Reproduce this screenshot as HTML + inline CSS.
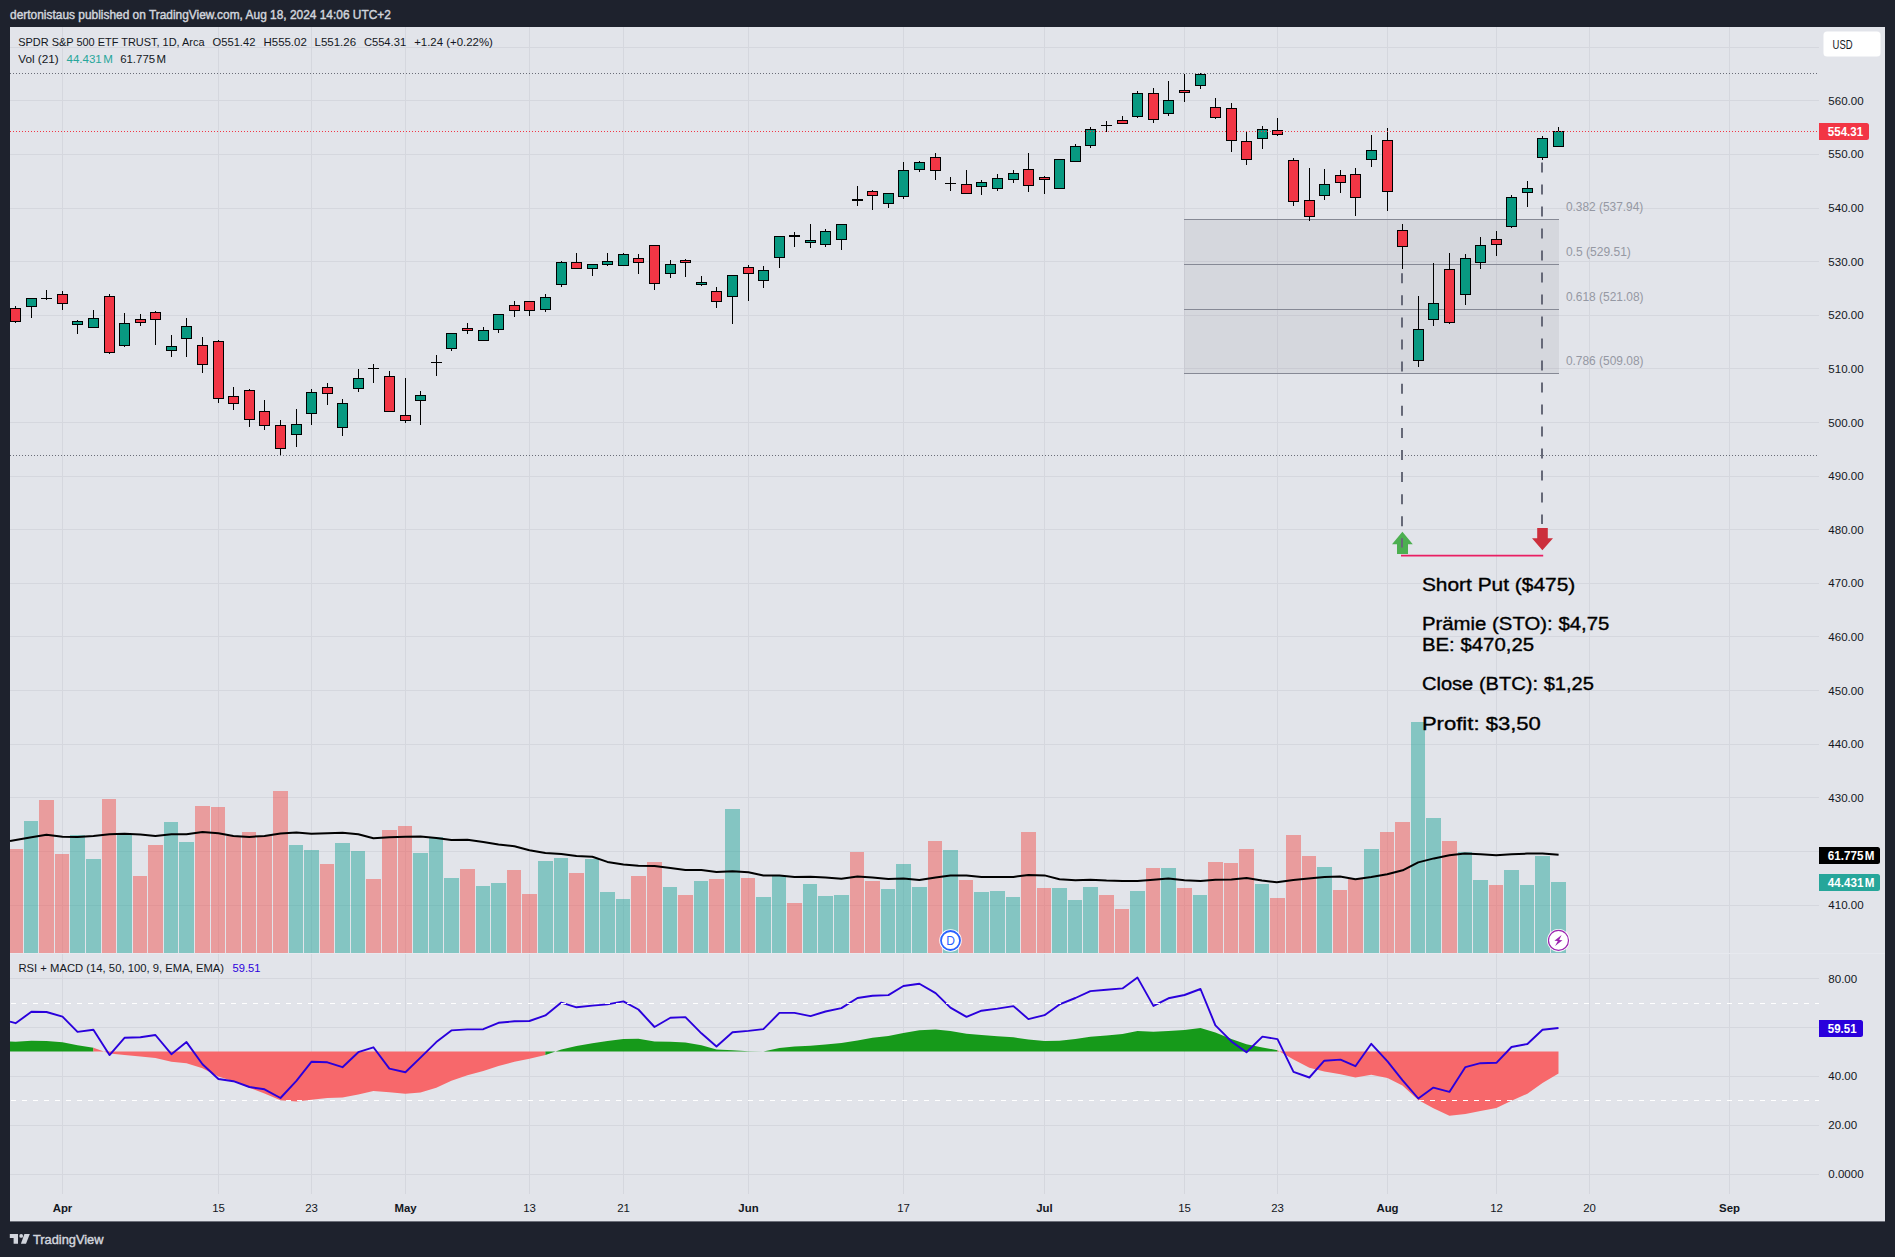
<!DOCTYPE html>
<html lang="en"><head><meta charset="utf-8"><title>SPY chart</title>
<style>html,body{margin:0;padding:0;background:#1e222d;}body{width:1895px;height:1257px;overflow:hidden;}</style>
</head><body>
<svg width="1895" height="1257" viewBox="0 0 1895 1257" font-family='"Liberation Sans", "DejaVu Sans", sans-serif' style="display:block">
<rect x="0" y="0" width="1895" height="1257" fill="#1e222d"/>
<rect x="10" y="27" width="1875" height="1194.4" fill="#e2e4ea"/>
<g fill="#d5d7de" shape-rendering="crispEdges">
<rect x="62" y="27" width="1" height="1167"/>
<rect x="218" y="27" width="1" height="1167"/>
<rect x="311" y="27" width="1" height="1167"/>
<rect x="405" y="27" width="1" height="1167"/>
<rect x="529" y="27" width="1" height="1167"/>
<rect x="623" y="27" width="1" height="1167"/>
<rect x="748" y="27" width="1" height="1167"/>
<rect x="903" y="27" width="1" height="1167"/>
<rect x="1044" y="27" width="1" height="1167"/>
<rect x="1184" y="27" width="1" height="1167"/>
<rect x="1277" y="27" width="1" height="1167"/>
<rect x="1387" y="27" width="1" height="1167"/>
<rect x="1496" y="27" width="1" height="1167"/>
<rect x="1589" y="27" width="1" height="1167"/>
<rect x="1729" y="27" width="1" height="1167"/>
<rect x="10" y="47" width="1809" height="1"/>
<rect x="10" y="100" width="1809" height="1"/>
<rect x="10" y="154" width="1809" height="1"/>
<rect x="10" y="208" width="1809" height="1"/>
<rect x="10" y="261" width="1809" height="1"/>
<rect x="10" y="315" width="1809" height="1"/>
<rect x="10" y="368" width="1809" height="1"/>
<rect x="10" y="422" width="1809" height="1"/>
<rect x="10" y="476" width="1809" height="1"/>
<rect x="10" y="529" width="1809" height="1"/>
<rect x="10" y="583" width="1809" height="1"/>
<rect x="10" y="636" width="1809" height="1"/>
<rect x="10" y="690" width="1809" height="1"/>
<rect x="10" y="744" width="1809" height="1"/>
<rect x="10" y="797" width="1809" height="1"/>
<rect x="10" y="851" width="1809" height="1"/>
<rect x="10" y="905" width="1809" height="1"/>
<rect x="10" y="978" width="1809" height="1"/>
<rect x="10" y="1027" width="1809" height="1"/>
<rect x="10" y="1076" width="1809" height="1"/>
<rect x="10" y="1125" width="1809" height="1"/>
<rect x="10" y="1174" width="1809" height="1"/>
</g>
<rect x="10" y="953" width="1875" height="1" fill="#e7e9ef" shape-rendering="crispEdges"/>
<g shape-rendering="crispEdges">
<rect x="10" y="849" width="13" height="104" fill="rgba(239,83,80,0.5)"/>
<rect x="24" y="821" width="14" height="132" fill="rgba(38,166,154,0.5)"/>
<rect x="39" y="800" width="15" height="153" fill="rgba(239,83,80,0.5)"/>
<rect x="55" y="854" width="14" height="99" fill="rgba(239,83,80,0.5)"/>
<rect x="70" y="835" width="15" height="118" fill="rgba(38,166,154,0.5)"/>
<rect x="86" y="859" width="15" height="94" fill="rgba(38,166,154,0.5)"/>
<rect x="102" y="799" width="14" height="154" fill="rgba(239,83,80,0.5)"/>
<rect x="117" y="835" width="15" height="118" fill="rgba(38,166,154,0.5)"/>
<rect x="133" y="876" width="14" height="77" fill="rgba(239,83,80,0.5)"/>
<rect x="148" y="845" width="15" height="108" fill="rgba(239,83,80,0.5)"/>
<rect x="164" y="822" width="14" height="131" fill="rgba(38,166,154,0.5)"/>
<rect x="179" y="842" width="15" height="111" fill="rgba(38,166,154,0.5)"/>
<rect x="195" y="806" width="15" height="147" fill="rgba(239,83,80,0.5)"/>
<rect x="211" y="807" width="14" height="146" fill="rgba(239,83,80,0.5)"/>
<rect x="226" y="836" width="15" height="117" fill="rgba(239,83,80,0.5)"/>
<rect x="242" y="832" width="14" height="121" fill="rgba(239,83,80,0.5)"/>
<rect x="257" y="836" width="15" height="117" fill="rgba(239,83,80,0.5)"/>
<rect x="273" y="791" width="15" height="162" fill="rgba(239,83,80,0.5)"/>
<rect x="289" y="845" width="14" height="108" fill="rgba(38,166,154,0.5)"/>
<rect x="304" y="850" width="15" height="103" fill="rgba(38,166,154,0.5)"/>
<rect x="320" y="864" width="14" height="89" fill="rgba(239,83,80,0.5)"/>
<rect x="335" y="843" width="15" height="110" fill="rgba(38,166,154,0.5)"/>
<rect x="351" y="851" width="14" height="102" fill="rgba(38,166,154,0.5)"/>
<rect x="366" y="879" width="15" height="74" fill="rgba(239,83,80,0.5)"/>
<rect x="382" y="830" width="15" height="123" fill="rgba(239,83,80,0.5)"/>
<rect x="398" y="826" width="14" height="127" fill="rgba(239,83,80,0.5)"/>
<rect x="413" y="853" width="15" height="100" fill="rgba(38,166,154,0.5)"/>
<rect x="429" y="837" width="14" height="116" fill="rgba(38,166,154,0.5)"/>
<rect x="444" y="878" width="15" height="75" fill="rgba(38,166,154,0.5)"/>
<rect x="460" y="869" width="15" height="84" fill="rgba(239,83,80,0.5)"/>
<rect x="476" y="886" width="14" height="67" fill="rgba(38,166,154,0.5)"/>
<rect x="491" y="883" width="15" height="70" fill="rgba(38,166,154,0.5)"/>
<rect x="507" y="870" width="14" height="83" fill="rgba(239,83,80,0.5)"/>
<rect x="522" y="894" width="15" height="59" fill="rgba(239,83,80,0.5)"/>
<rect x="538" y="861" width="15" height="92" fill="rgba(38,166,154,0.5)"/>
<rect x="554" y="858" width="14" height="95" fill="rgba(38,166,154,0.5)"/>
<rect x="569" y="873" width="15" height="80" fill="rgba(239,83,80,0.5)"/>
<rect x="585" y="859" width="14" height="94" fill="rgba(38,166,154,0.5)"/>
<rect x="600" y="892" width="15" height="61" fill="rgba(38,166,154,0.5)"/>
<rect x="616" y="899" width="14" height="54" fill="rgba(38,166,154,0.5)"/>
<rect x="631" y="876" width="15" height="77" fill="rgba(239,83,80,0.5)"/>
<rect x="647" y="862" width="15" height="91" fill="rgba(239,83,80,0.5)"/>
<rect x="663" y="887" width="14" height="66" fill="rgba(38,166,154,0.5)"/>
<rect x="678" y="895" width="15" height="58" fill="rgba(239,83,80,0.5)"/>
<rect x="694" y="881" width="14" height="72" fill="rgba(38,166,154,0.5)"/>
<rect x="709" y="879" width="15" height="74" fill="rgba(239,83,80,0.5)"/>
<rect x="725" y="809" width="15" height="144" fill="rgba(38,166,154,0.5)"/>
<rect x="741" y="878" width="14" height="75" fill="rgba(239,83,80,0.5)"/>
<rect x="756" y="897" width="15" height="56" fill="rgba(38,166,154,0.5)"/>
<rect x="772" y="876" width="14" height="77" fill="rgba(38,166,154,0.5)"/>
<rect x="787" y="903" width="15" height="50" fill="rgba(239,83,80,0.5)"/>
<rect x="803" y="884" width="14" height="69" fill="rgba(38,166,154,0.5)"/>
<rect x="818" y="896" width="15" height="57" fill="rgba(38,166,154,0.5)"/>
<rect x="834" y="895" width="15" height="58" fill="rgba(38,166,154,0.5)"/>
<rect x="850" y="852" width="14" height="101" fill="rgba(239,83,80,0.5)"/>
<rect x="865" y="881" width="15" height="72" fill="rgba(239,83,80,0.5)"/>
<rect x="881" y="889" width="14" height="64" fill="rgba(38,166,154,0.5)"/>
<rect x="896" y="864" width="15" height="89" fill="rgba(38,166,154,0.5)"/>
<rect x="912" y="887" width="15" height="66" fill="rgba(38,166,154,0.5)"/>
<rect x="928" y="841" width="14" height="112" fill="rgba(239,83,80,0.5)"/>
<rect x="943" y="850" width="15" height="103" fill="rgba(38,166,154,0.5)"/>
<rect x="959" y="880" width="14" height="73" fill="rgba(239,83,80,0.5)"/>
<rect x="974" y="892" width="15" height="61" fill="rgba(38,166,154,0.5)"/>
<rect x="990" y="891" width="15" height="62" fill="rgba(38,166,154,0.5)"/>
<rect x="1006" y="897" width="14" height="56" fill="rgba(38,166,154,0.5)"/>
<rect x="1021" y="832" width="15" height="121" fill="rgba(239,83,80,0.5)"/>
<rect x="1037" y="888" width="14" height="65" fill="rgba(239,83,80,0.5)"/>
<rect x="1052" y="888" width="15" height="65" fill="rgba(38,166,154,0.5)"/>
<rect x="1068" y="900" width="14" height="53" fill="rgba(38,166,154,0.5)"/>
<rect x="1083" y="887" width="15" height="66" fill="rgba(38,166,154,0.5)"/>
<rect x="1099" y="895" width="15" height="58" fill="rgba(239,83,80,0.5)"/>
<rect x="1115" y="909" width="14" height="44" fill="rgba(239,83,80,0.5)"/>
<rect x="1130" y="891" width="15" height="62" fill="rgba(38,166,154,0.5)"/>
<rect x="1146" y="868" width="14" height="85" fill="rgba(239,83,80,0.5)"/>
<rect x="1161" y="868" width="15" height="85" fill="rgba(38,166,154,0.5)"/>
<rect x="1177" y="888" width="15" height="65" fill="rgba(239,83,80,0.5)"/>
<rect x="1193" y="895" width="14" height="58" fill="rgba(38,166,154,0.5)"/>
<rect x="1208" y="862" width="15" height="91" fill="rgba(239,83,80,0.5)"/>
<rect x="1224" y="863" width="14" height="90" fill="rgba(239,83,80,0.5)"/>
<rect x="1239" y="849" width="15" height="104" fill="rgba(239,83,80,0.5)"/>
<rect x="1255" y="884" width="14" height="69" fill="rgba(38,166,154,0.5)"/>
<rect x="1270" y="898" width="15" height="55" fill="rgba(239,83,80,0.5)"/>
<rect x="1286" y="835" width="15" height="118" fill="rgba(239,83,80,0.5)"/>
<rect x="1302" y="856" width="14" height="97" fill="rgba(239,83,80,0.5)"/>
<rect x="1317" y="867" width="15" height="86" fill="rgba(38,166,154,0.5)"/>
<rect x="1333" y="890" width="14" height="63" fill="rgba(239,83,80,0.5)"/>
<rect x="1348" y="879" width="15" height="74" fill="rgba(239,83,80,0.5)"/>
<rect x="1364" y="849" width="15" height="104" fill="rgba(38,166,154,0.5)"/>
<rect x="1380" y="832" width="14" height="121" fill="rgba(239,83,80,0.5)"/>
<rect x="1395" y="822" width="15" height="131" fill="rgba(239,83,80,0.5)"/>
<rect x="1411" y="722" width="14" height="231" fill="rgba(38,166,154,0.5)"/>
<rect x="1426" y="818" width="15" height="135" fill="rgba(38,166,154,0.5)"/>
<rect x="1442" y="841" width="15" height="112" fill="rgba(239,83,80,0.5)"/>
<rect x="1458" y="852" width="14" height="101" fill="rgba(38,166,154,0.5)"/>
<rect x="1473" y="880" width="15" height="73" fill="rgba(38,166,154,0.5)"/>
<rect x="1489" y="885" width="14" height="68" fill="rgba(239,83,80,0.5)"/>
<rect x="1504" y="870" width="15" height="83" fill="rgba(38,166,154,0.5)"/>
<rect x="1520" y="885" width="14" height="68" fill="rgba(38,166,154,0.5)"/>
<rect x="1535" y="856" width="15" height="97" fill="rgba(38,166,154,0.5)"/>
<rect x="1551" y="882" width="15" height="71" fill="rgba(38,166,154,0.5)"/>
</g>
<polyline fill="none" stroke="#000" stroke-width="2" stroke-linejoin="round" points="10.0,840.9 31.4,837.2 46.5,834.7 62.5,836.7 77.5,836.9 93.4,835.9 109.5,834.3 124.5,833.8 140.4,834.5 155.4,835.9 171.4,834.3 186.5,834.3 202.5,832.0 218.4,833.3 233.4,835.9 249.4,836.9 264.5,835.9 280.5,833.5 296.4,832.6 311.4,833.8 327.4,833.3 342.5,832.8 358.3,834.3 373.4,838.2 389.4,837.2 405.4,836.7 420.5,836.5 436.3,838.1 451.4,839.9 467.4,839.7 483.3,841.9 498.5,844.5 514.4,846.2 529.4,850.2 545.4,852.9 561.3,853.9 576.5,856.0 592.4,856.8 607.4,861.9 623.4,864.6 638.4,865.7 654.5,865.9 670.4,867.9 685.4,870.0 701.4,870.1 716.5,872.0 732.5,871.3 748.4,872.3 763.4,875.5 779.4,875.5 794.5,876.9 810.5,876.7 825.5,877.4 841.4,878.7 857.5,876.6 872.5,877.4 888.4,878.9 903.4,878.6 919.4,879.9 935.6,877.4 950.4,875.5 966.5,875.5 981.5,876.9 997.4,877.1 1013.4,876.9 1028.4,874.9 1044.5,875.4 1059.5,879.3 1075.4,880.3 1090.4,879.8 1106.5,880.6 1122.5,880.9 1137.5,881.1 1153.4,879.8 1168.4,878.6 1184.5,880.3 1200.5,880.9 1215.4,879.8 1231.4,879.6 1246.6,878.1 1261.9,880.5 1276.8,882.2 1293.3,879.9 1308.6,878.5 1324.5,877.1 1340.0,876.5 1355.4,879.3 1371.3,877.1 1387.2,874.3 1402.7,870.3 1418.2,862.4 1433.9,858.4 1449.4,855.2 1464.8,853.6 1480.7,854.2 1496.2,855.2 1511.5,854.2 1527.0,853.6 1542.5,853.6 1558.6,854.8"/>
<rect x="1184" y="219" width="375" height="155" fill="rgba(120,123,134,0.12)"/>
<g fill="#82859180" shape-rendering="crispEdges">
</g>
<g fill="#868995" shape-rendering="crispEdges">
<rect x="1184" y="219" width="375" height="1"/>
<rect x="1184" y="264" width="375" height="1"/>
<rect x="1184" y="309" width="375" height="1"/>
<rect x="1184" y="373" width="375" height="1"/>
</g>
<g shape-rendering="crispEdges">
<rect x="15" y="306" width="1" height="2" fill="#000"/>
<rect x="15" y="322" width="1" height="1" fill="#000"/>
<rect x="10" y="308" width="11" height="14" fill="#000"/>
<rect x="11" y="309" width="9" height="12" fill="#f23645"/>
<rect x="31" y="307" width="1" height="11" fill="#000"/>
<rect x="26" y="298" width="11" height="9" fill="#000"/>
<rect x="27" y="299" width="9" height="7" fill="#089981"/>
<rect x="46" y="290" width="1" height="10" fill="#000"/>
<rect x="41" y="298" width="11" height="1" fill="#000"/>
<rect x="62" y="291" width="1" height="3" fill="#000"/>
<rect x="62" y="304" width="1" height="6" fill="#000"/>
<rect x="57" y="294" width="11" height="10" fill="#000"/>
<rect x="58" y="295" width="9" height="8" fill="#f23645"/>
<rect x="77" y="320" width="1" height="1" fill="#000"/>
<rect x="77" y="325" width="1" height="9" fill="#000"/>
<rect x="72" y="321" width="11" height="4" fill="#000"/>
<rect x="73" y="322" width="9" height="2" fill="#089981"/>
<rect x="93" y="310" width="1" height="8" fill="#000"/>
<rect x="88" y="318" width="11" height="10" fill="#000"/>
<rect x="89" y="319" width="9" height="8" fill="#089981"/>
<rect x="109" y="294" width="1" height="2" fill="#000"/>
<rect x="109" y="353" width="1" height="1" fill="#000"/>
<rect x="104" y="296" width="11" height="57" fill="#000"/>
<rect x="105" y="297" width="9" height="55" fill="#f23645"/>
<rect x="124" y="313" width="1" height="10" fill="#000"/>
<rect x="124" y="346" width="1" height="1" fill="#000"/>
<rect x="119" y="323" width="11" height="23" fill="#000"/>
<rect x="120" y="324" width="9" height="21" fill="#089981"/>
<rect x="140" y="314" width="1" height="5" fill="#000"/>
<rect x="140" y="323" width="1" height="3" fill="#000"/>
<rect x="135" y="319" width="11" height="4" fill="#000"/>
<rect x="136" y="320" width="9" height="2" fill="#f23645"/>
<rect x="155" y="311" width="1" height="1" fill="#000"/>
<rect x="155" y="320" width="1" height="25" fill="#000"/>
<rect x="150" y="312" width="11" height="8" fill="#000"/>
<rect x="151" y="313" width="9" height="6" fill="#f23645"/>
<rect x="171" y="335" width="1" height="11" fill="#000"/>
<rect x="171" y="351" width="1" height="6" fill="#000"/>
<rect x="166" y="346" width="11" height="5" fill="#000"/>
<rect x="167" y="347" width="9" height="3" fill="#089981"/>
<rect x="186" y="318" width="1" height="8" fill="#000"/>
<rect x="186" y="339" width="1" height="18" fill="#000"/>
<rect x="181" y="326" width="11" height="13" fill="#000"/>
<rect x="182" y="327" width="9" height="11" fill="#089981"/>
<rect x="202" y="337" width="1" height="8" fill="#000"/>
<rect x="202" y="365" width="1" height="8" fill="#000"/>
<rect x="197" y="345" width="11" height="20" fill="#000"/>
<rect x="198" y="346" width="9" height="18" fill="#f23645"/>
<rect x="218" y="340" width="1" height="1" fill="#000"/>
<rect x="218" y="399" width="1" height="4" fill="#000"/>
<rect x="213" y="341" width="11" height="58" fill="#000"/>
<rect x="214" y="342" width="9" height="56" fill="#f23645"/>
<rect x="233" y="387" width="1" height="9" fill="#000"/>
<rect x="233" y="404" width="1" height="6" fill="#000"/>
<rect x="228" y="396" width="11" height="8" fill="#000"/>
<rect x="229" y="397" width="9" height="6" fill="#f23645"/>
<rect x="249" y="389" width="1" height="1" fill="#000"/>
<rect x="249" y="420" width="1" height="7" fill="#000"/>
<rect x="244" y="390" width="11" height="30" fill="#000"/>
<rect x="245" y="391" width="9" height="28" fill="#f23645"/>
<rect x="264" y="400" width="1" height="11" fill="#000"/>
<rect x="264" y="426" width="1" height="4" fill="#000"/>
<rect x="259" y="411" width="11" height="15" fill="#000"/>
<rect x="260" y="412" width="9" height="13" fill="#f23645"/>
<rect x="280" y="420" width="1" height="5" fill="#000"/>
<rect x="280" y="449" width="1" height="6" fill="#000"/>
<rect x="275" y="425" width="11" height="24" fill="#000"/>
<rect x="276" y="426" width="9" height="22" fill="#f23645"/>
<rect x="296" y="409" width="1" height="15" fill="#000"/>
<rect x="296" y="435" width="1" height="12" fill="#000"/>
<rect x="291" y="424" width="11" height="11" fill="#000"/>
<rect x="292" y="425" width="9" height="9" fill="#089981"/>
<rect x="311" y="389" width="1" height="3" fill="#000"/>
<rect x="311" y="414" width="1" height="11" fill="#000"/>
<rect x="306" y="392" width="11" height="22" fill="#000"/>
<rect x="307" y="393" width="9" height="20" fill="#089981"/>
<rect x="327" y="383" width="1" height="4" fill="#000"/>
<rect x="327" y="394" width="1" height="11" fill="#000"/>
<rect x="322" y="387" width="11" height="7" fill="#000"/>
<rect x="323" y="388" width="9" height="5" fill="#f23645"/>
<rect x="342" y="399" width="1" height="4" fill="#000"/>
<rect x="342" y="428" width="1" height="8" fill="#000"/>
<rect x="337" y="403" width="11" height="25" fill="#000"/>
<rect x="338" y="404" width="9" height="23" fill="#089981"/>
<rect x="358" y="369" width="1" height="9" fill="#000"/>
<rect x="358" y="389" width="1" height="3" fill="#000"/>
<rect x="353" y="378" width="11" height="11" fill="#000"/>
<rect x="354" y="379" width="9" height="9" fill="#089981"/>
<rect x="373" y="364" width="1" height="19" fill="#000"/>
<rect x="368" y="368" width="11" height="1" fill="#000"/>
<rect x="389" y="371" width="1" height="5" fill="#000"/>
<rect x="384" y="376" width="11" height="36" fill="#000"/>
<rect x="385" y="377" width="9" height="34" fill="#f23645"/>
<rect x="405" y="378" width="1" height="37" fill="#000"/>
<rect x="405" y="421" width="1" height="2" fill="#000"/>
<rect x="400" y="415" width="11" height="6" fill="#000"/>
<rect x="401" y="416" width="9" height="4" fill="#f23645"/>
<rect x="420" y="391" width="1" height="4" fill="#000"/>
<rect x="420" y="401" width="1" height="24" fill="#000"/>
<rect x="415" y="395" width="11" height="6" fill="#000"/>
<rect x="416" y="396" width="9" height="4" fill="#089981"/>
<rect x="436" y="355" width="1" height="21" fill="#000"/>
<rect x="431" y="362" width="11" height="1" fill="#000"/>
<rect x="451" y="349" width="1" height="2" fill="#000"/>
<rect x="446" y="333" width="11" height="16" fill="#000"/>
<rect x="447" y="334" width="9" height="14" fill="#089981"/>
<rect x="467" y="323" width="1" height="5" fill="#000"/>
<rect x="467" y="331" width="1" height="3" fill="#000"/>
<rect x="462" y="328" width="11" height="3" fill="#000"/>
<rect x="463" y="329" width="9" height="1" fill="#f23645"/>
<rect x="483" y="327" width="1" height="3" fill="#000"/>
<rect x="478" y="330" width="11" height="11" fill="#000"/>
<rect x="479" y="331" width="9" height="9" fill="#089981"/>
<rect x="498" y="330" width="1" height="3" fill="#000"/>
<rect x="493" y="314" width="11" height="16" fill="#000"/>
<rect x="494" y="315" width="9" height="14" fill="#089981"/>
<rect x="514" y="301" width="1" height="4" fill="#000"/>
<rect x="514" y="311" width="1" height="6" fill="#000"/>
<rect x="509" y="305" width="11" height="6" fill="#000"/>
<rect x="510" y="306" width="9" height="4" fill="#f23645"/>
<rect x="529" y="311" width="1" height="5" fill="#000"/>
<rect x="524" y="301" width="11" height="10" fill="#000"/>
<rect x="525" y="302" width="9" height="8" fill="#f23645"/>
<rect x="545" y="294" width="1" height="3" fill="#000"/>
<rect x="545" y="310" width="1" height="2" fill="#000"/>
<rect x="540" y="297" width="11" height="13" fill="#000"/>
<rect x="541" y="298" width="9" height="11" fill="#089981"/>
<rect x="561" y="261" width="1" height="1" fill="#000"/>
<rect x="561" y="285" width="1" height="2" fill="#000"/>
<rect x="556" y="262" width="11" height="23" fill="#000"/>
<rect x="557" y="263" width="9" height="21" fill="#089981"/>
<rect x="576" y="253" width="1" height="9" fill="#000"/>
<rect x="571" y="262" width="11" height="7" fill="#000"/>
<rect x="572" y="263" width="9" height="5" fill="#f23645"/>
<rect x="592" y="269" width="1" height="7" fill="#000"/>
<rect x="587" y="264" width="11" height="5" fill="#000"/>
<rect x="588" y="265" width="9" height="3" fill="#089981"/>
<rect x="607" y="253" width="1" height="8" fill="#000"/>
<rect x="607" y="265" width="1" height="1" fill="#000"/>
<rect x="602" y="261" width="11" height="4" fill="#000"/>
<rect x="603" y="262" width="9" height="2" fill="#089981"/>
<rect x="623" y="253" width="1" height="1" fill="#000"/>
<rect x="618" y="254" width="11" height="12" fill="#000"/>
<rect x="619" y="255" width="9" height="10" fill="#089981"/>
<rect x="638" y="254" width="1" height="4" fill="#000"/>
<rect x="638" y="263" width="1" height="11" fill="#000"/>
<rect x="633" y="258" width="11" height="5" fill="#000"/>
<rect x="634" y="259" width="9" height="3" fill="#f23645"/>
<rect x="654" y="284" width="1" height="6" fill="#000"/>
<rect x="649" y="245" width="11" height="39" fill="#000"/>
<rect x="650" y="246" width="9" height="37" fill="#f23645"/>
<rect x="670" y="260" width="1" height="4" fill="#000"/>
<rect x="670" y="274" width="1" height="4" fill="#000"/>
<rect x="665" y="264" width="11" height="10" fill="#000"/>
<rect x="666" y="265" width="9" height="8" fill="#089981"/>
<rect x="685" y="259" width="1" height="1" fill="#000"/>
<rect x="685" y="263" width="1" height="14" fill="#000"/>
<rect x="680" y="260" width="11" height="3" fill="#000"/>
<rect x="681" y="261" width="9" height="1" fill="#f23645"/>
<rect x="701" y="276" width="1" height="6" fill="#000"/>
<rect x="701" y="285" width="1" height="1" fill="#000"/>
<rect x="696" y="282" width="11" height="3" fill="#000"/>
<rect x="697" y="283" width="9" height="1" fill="#089981"/>
<rect x="716" y="287" width="1" height="4" fill="#000"/>
<rect x="716" y="302" width="1" height="6" fill="#000"/>
<rect x="711" y="291" width="11" height="11" fill="#000"/>
<rect x="712" y="292" width="9" height="9" fill="#f23645"/>
<rect x="732" y="297" width="1" height="27" fill="#000"/>
<rect x="727" y="275" width="11" height="22" fill="#000"/>
<rect x="728" y="276" width="9" height="20" fill="#089981"/>
<rect x="748" y="265" width="1" height="2" fill="#000"/>
<rect x="748" y="274" width="1" height="27" fill="#000"/>
<rect x="743" y="267" width="11" height="7" fill="#000"/>
<rect x="744" y="268" width="9" height="5" fill="#f23645"/>
<rect x="763" y="266" width="1" height="4" fill="#000"/>
<rect x="763" y="281" width="1" height="7" fill="#000"/>
<rect x="758" y="270" width="11" height="11" fill="#000"/>
<rect x="759" y="271" width="9" height="9" fill="#089981"/>
<rect x="779" y="258" width="1" height="10" fill="#000"/>
<rect x="774" y="236" width="11" height="22" fill="#000"/>
<rect x="775" y="237" width="9" height="20" fill="#089981"/>
<rect x="794" y="232" width="1" height="15" fill="#000"/>
<rect x="789" y="235" width="11" height="2" fill="#000"/>
<rect x="810" y="224" width="1" height="16" fill="#000"/>
<rect x="810" y="243" width="1" height="5" fill="#000"/>
<rect x="805" y="240" width="11" height="3" fill="#000"/>
<rect x="806" y="241" width="9" height="1" fill="#089981"/>
<rect x="825" y="229" width="1" height="2" fill="#000"/>
<rect x="825" y="245" width="1" height="2" fill="#000"/>
<rect x="820" y="231" width="11" height="14" fill="#000"/>
<rect x="821" y="232" width="9" height="12" fill="#089981"/>
<rect x="841" y="240" width="1" height="10" fill="#000"/>
<rect x="836" y="224" width="11" height="16" fill="#000"/>
<rect x="837" y="225" width="9" height="14" fill="#089981"/>
<rect x="857" y="186" width="1" height="20" fill="#000"/>
<rect x="852" y="199" width="11" height="2" fill="#000"/>
<rect x="872" y="190" width="1" height="1" fill="#000"/>
<rect x="872" y="196" width="1" height="14" fill="#000"/>
<rect x="867" y="191" width="11" height="5" fill="#000"/>
<rect x="868" y="192" width="9" height="3" fill="#f23645"/>
<rect x="888" y="204" width="1" height="4" fill="#000"/>
<rect x="883" y="193" width="11" height="11" fill="#000"/>
<rect x="884" y="194" width="9" height="9" fill="#089981"/>
<rect x="903" y="162" width="1" height="8" fill="#000"/>
<rect x="903" y="197" width="1" height="2" fill="#000"/>
<rect x="898" y="170" width="11" height="27" fill="#000"/>
<rect x="899" y="171" width="9" height="25" fill="#089981"/>
<rect x="919" y="161" width="1" height="1" fill="#000"/>
<rect x="919" y="170" width="1" height="2" fill="#000"/>
<rect x="914" y="162" width="11" height="8" fill="#000"/>
<rect x="915" y="163" width="9" height="6" fill="#089981"/>
<rect x="935" y="153" width="1" height="4" fill="#000"/>
<rect x="935" y="171" width="1" height="9" fill="#000"/>
<rect x="930" y="157" width="11" height="14" fill="#000"/>
<rect x="931" y="158" width="9" height="12" fill="#f23645"/>
<rect x="950" y="177" width="1" height="14" fill="#000"/>
<rect x="945" y="183" width="11" height="1" fill="#000"/>
<rect x="966" y="170" width="1" height="14" fill="#000"/>
<rect x="961" y="184" width="11" height="10" fill="#000"/>
<rect x="962" y="185" width="9" height="8" fill="#f23645"/>
<rect x="981" y="180" width="1" height="2" fill="#000"/>
<rect x="981" y="187" width="1" height="8" fill="#000"/>
<rect x="976" y="182" width="11" height="5" fill="#000"/>
<rect x="977" y="183" width="9" height="3" fill="#089981"/>
<rect x="997" y="174" width="1" height="4" fill="#000"/>
<rect x="997" y="189" width="1" height="2" fill="#000"/>
<rect x="992" y="178" width="11" height="11" fill="#000"/>
<rect x="993" y="179" width="9" height="9" fill="#089981"/>
<rect x="1013" y="170" width="1" height="3" fill="#000"/>
<rect x="1013" y="180" width="1" height="3" fill="#000"/>
<rect x="1008" y="173" width="11" height="7" fill="#000"/>
<rect x="1009" y="174" width="9" height="5" fill="#089981"/>
<rect x="1028" y="153" width="1" height="16" fill="#000"/>
<rect x="1028" y="186" width="1" height="6" fill="#000"/>
<rect x="1023" y="169" width="11" height="17" fill="#000"/>
<rect x="1024" y="170" width="9" height="15" fill="#f23645"/>
<rect x="1044" y="176" width="1" height="1" fill="#000"/>
<rect x="1044" y="180" width="1" height="14" fill="#000"/>
<rect x="1039" y="177" width="11" height="3" fill="#000"/>
<rect x="1040" y="178" width="9" height="1" fill="#f23645"/>
<rect x="1054" y="159" width="11" height="30" fill="#000"/>
<rect x="1055" y="160" width="9" height="28" fill="#089981"/>
<rect x="1075" y="144" width="1" height="2" fill="#000"/>
<rect x="1070" y="146" width="11" height="16" fill="#000"/>
<rect x="1071" y="147" width="9" height="14" fill="#089981"/>
<rect x="1090" y="127" width="1" height="2" fill="#000"/>
<rect x="1090" y="146" width="1" height="2" fill="#000"/>
<rect x="1085" y="129" width="11" height="17" fill="#000"/>
<rect x="1086" y="130" width="9" height="15" fill="#089981"/>
<rect x="1106" y="121" width="1" height="11" fill="#000"/>
<rect x="1101" y="125" width="11" height="1" fill="#000"/>
<rect x="1122" y="116" width="1" height="4" fill="#000"/>
<rect x="1117" y="120" width="11" height="4" fill="#000"/>
<rect x="1118" y="121" width="9" height="2" fill="#f23645"/>
<rect x="1137" y="91" width="1" height="2" fill="#000"/>
<rect x="1137" y="117" width="1" height="1" fill="#000"/>
<rect x="1132" y="93" width="11" height="24" fill="#000"/>
<rect x="1133" y="94" width="9" height="22" fill="#089981"/>
<rect x="1153" y="88" width="1" height="5" fill="#000"/>
<rect x="1153" y="120" width="1" height="3" fill="#000"/>
<rect x="1148" y="93" width="11" height="27" fill="#000"/>
<rect x="1149" y="94" width="9" height="25" fill="#f23645"/>
<rect x="1168" y="81" width="1" height="19" fill="#000"/>
<rect x="1168" y="114" width="1" height="2" fill="#000"/>
<rect x="1163" y="100" width="11" height="14" fill="#000"/>
<rect x="1164" y="101" width="9" height="12" fill="#089981"/>
<rect x="1184" y="74" width="1" height="16" fill="#000"/>
<rect x="1184" y="93" width="1" height="9" fill="#000"/>
<rect x="1179" y="90" width="11" height="3" fill="#000"/>
<rect x="1180" y="91" width="9" height="1" fill="#f23645"/>
<rect x="1200" y="73" width="1" height="1" fill="#000"/>
<rect x="1200" y="86" width="1" height="3" fill="#000"/>
<rect x="1195" y="74" width="11" height="12" fill="#000"/>
<rect x="1196" y="75" width="9" height="10" fill="#089981"/>
<rect x="1215" y="98" width="1" height="9" fill="#000"/>
<rect x="1215" y="118" width="1" height="1" fill="#000"/>
<rect x="1210" y="107" width="11" height="11" fill="#000"/>
<rect x="1211" y="108" width="9" height="9" fill="#f23645"/>
<rect x="1231" y="103" width="1" height="5" fill="#000"/>
<rect x="1231" y="141" width="1" height="11" fill="#000"/>
<rect x="1226" y="108" width="11" height="33" fill="#000"/>
<rect x="1227" y="109" width="9" height="31" fill="#f23645"/>
<rect x="1246" y="132" width="1" height="9" fill="#000"/>
<rect x="1246" y="160" width="1" height="5" fill="#000"/>
<rect x="1241" y="141" width="11" height="19" fill="#000"/>
<rect x="1242" y="142" width="9" height="17" fill="#f23645"/>
<rect x="1262" y="126" width="1" height="3" fill="#000"/>
<rect x="1262" y="139" width="1" height="10" fill="#000"/>
<rect x="1257" y="129" width="11" height="10" fill="#000"/>
<rect x="1258" y="130" width="9" height="8" fill="#089981"/>
<rect x="1277" y="118" width="1" height="12" fill="#000"/>
<rect x="1277" y="135" width="1" height="1" fill="#000"/>
<rect x="1272" y="130" width="11" height="5" fill="#000"/>
<rect x="1273" y="131" width="9" height="3" fill="#f23645"/>
<rect x="1293" y="158" width="1" height="2" fill="#000"/>
<rect x="1293" y="202" width="1" height="4" fill="#000"/>
<rect x="1288" y="160" width="11" height="42" fill="#000"/>
<rect x="1289" y="161" width="9" height="40" fill="#f23645"/>
<rect x="1309" y="168" width="1" height="32" fill="#000"/>
<rect x="1309" y="217" width="1" height="4" fill="#000"/>
<rect x="1304" y="200" width="11" height="17" fill="#000"/>
<rect x="1305" y="201" width="9" height="15" fill="#f23645"/>
<rect x="1324" y="169" width="1" height="15" fill="#000"/>
<rect x="1324" y="196" width="1" height="4" fill="#000"/>
<rect x="1319" y="184" width="11" height="12" fill="#000"/>
<rect x="1320" y="185" width="9" height="10" fill="#089981"/>
<rect x="1340" y="170" width="1" height="5" fill="#000"/>
<rect x="1340" y="183" width="1" height="10" fill="#000"/>
<rect x="1335" y="175" width="11" height="8" fill="#000"/>
<rect x="1336" y="176" width="9" height="6" fill="#f23645"/>
<rect x="1355" y="168" width="1" height="6" fill="#000"/>
<rect x="1355" y="198" width="1" height="18" fill="#000"/>
<rect x="1350" y="174" width="11" height="24" fill="#000"/>
<rect x="1351" y="175" width="9" height="22" fill="#f23645"/>
<rect x="1371" y="135" width="1" height="15" fill="#000"/>
<rect x="1371" y="160" width="1" height="7" fill="#000"/>
<rect x="1366" y="150" width="11" height="10" fill="#000"/>
<rect x="1367" y="151" width="9" height="8" fill="#089981"/>
<rect x="1387" y="128" width="1" height="12" fill="#000"/>
<rect x="1387" y="192" width="1" height="19" fill="#000"/>
<rect x="1382" y="140" width="11" height="52" fill="#000"/>
<rect x="1383" y="141" width="9" height="50" fill="#f23645"/>
<rect x="1402" y="224" width="1" height="6" fill="#000"/>
<rect x="1402" y="247" width="1" height="22" fill="#000"/>
<rect x="1397" y="230" width="11" height="17" fill="#000"/>
<rect x="1398" y="231" width="9" height="15" fill="#f23645"/>
<rect x="1418" y="296" width="1" height="33" fill="#000"/>
<rect x="1418" y="361" width="1" height="6" fill="#000"/>
<rect x="1413" y="329" width="11" height="32" fill="#000"/>
<rect x="1414" y="330" width="9" height="30" fill="#089981"/>
<rect x="1433" y="263" width="1" height="40" fill="#000"/>
<rect x="1433" y="320" width="1" height="6" fill="#000"/>
<rect x="1428" y="303" width="11" height="17" fill="#000"/>
<rect x="1429" y="304" width="9" height="15" fill="#089981"/>
<rect x="1449" y="253" width="1" height="16" fill="#000"/>
<rect x="1449" y="323" width="1" height="1" fill="#000"/>
<rect x="1444" y="269" width="11" height="54" fill="#000"/>
<rect x="1445" y="270" width="9" height="52" fill="#f23645"/>
<rect x="1465" y="254" width="1" height="4" fill="#000"/>
<rect x="1465" y="295" width="1" height="10" fill="#000"/>
<rect x="1460" y="258" width="11" height="37" fill="#000"/>
<rect x="1461" y="259" width="9" height="35" fill="#089981"/>
<rect x="1480" y="237" width="1" height="8" fill="#000"/>
<rect x="1480" y="263" width="1" height="6" fill="#000"/>
<rect x="1475" y="245" width="11" height="18" fill="#000"/>
<rect x="1476" y="246" width="9" height="16" fill="#089981"/>
<rect x="1496" y="231" width="1" height="8" fill="#000"/>
<rect x="1496" y="245" width="1" height="11" fill="#000"/>
<rect x="1491" y="239" width="11" height="6" fill="#000"/>
<rect x="1492" y="240" width="9" height="4" fill="#f23645"/>
<rect x="1511" y="195" width="1" height="2" fill="#000"/>
<rect x="1511" y="227" width="1" height="1" fill="#000"/>
<rect x="1506" y="197" width="11" height="30" fill="#000"/>
<rect x="1507" y="198" width="9" height="28" fill="#089981"/>
<rect x="1527" y="181" width="1" height="7" fill="#000"/>
<rect x="1527" y="193" width="1" height="14" fill="#000"/>
<rect x="1522" y="188" width="11" height="5" fill="#000"/>
<rect x="1523" y="189" width="9" height="3" fill="#089981"/>
<rect x="1542" y="136" width="1" height="2" fill="#000"/>
<rect x="1542" y="158" width="1" height="2" fill="#000"/>
<rect x="1537" y="138" width="11" height="20" fill="#000"/>
<rect x="1538" y="139" width="9" height="18" fill="#089981"/>
<rect x="1558" y="127" width="1" height="4" fill="#000"/>
<rect x="1553" y="131" width="11" height="16" fill="#000"/>
<rect x="1554" y="132" width="9" height="14" fill="#089981"/>
</g>
<g shape-rendering="crispEdges" fill="none" stroke-width="1" stroke-dasharray="1 2">
<line x1="10" y1="73.5" x2="1819" y2="73.5" stroke="#6a6d78"/>
<line x1="10" y1="455.5" x2="1819" y2="455.5" stroke="#6a6d78"/>
<line x1="10" y1="131.5" x2="1819" y2="131.5" stroke="#f23645"/>
</g>
<g stroke="#666978" stroke-width="2" fill="none">
<line x1="1402" y1="273.2" x2="1402" y2="534" stroke-dasharray="10 12.1"/>
<line x1="1542" y1="162.4" x2="1542" y2="524" stroke-dasharray="10 12"/>
</g>
<polygon points="1402.4,531.8 1412.8,544.2 1408,544.2 1408,554 1397,554 1397,544.2 1392,544.2" fill="#4caf50"/>
<rect x="1401" y="538.2" width="2" height="9.3" fill="#666978"/>
<polygon points="1537.2,528 1547.8,528 1547.8,538.2 1553,538.2 1542.4,550.2 1532,538.2 1537.2,538.2" fill="#cc2f3c"/>
<line x1="1401" y1="555.6" x2="1543.2" y2="555.6" stroke="#e91e63" stroke-width="1.8"/>
<g font-size="18.8" fill="#000" stroke="#000" stroke-width="0.35">
<text x="1421.9" y="590.7" textLength="153.4" lengthAdjust="spacingAndGlyphs">Short Put ($475)</text>
<text x="1421.9" y="630.4" textLength="187.5" lengthAdjust="spacingAndGlyphs">Prämie (STO): $4,75</text>
<text x="1421.9" y="650.6" textLength="112.2" lengthAdjust="spacingAndGlyphs">BE: $470,25</text>
<text x="1421.9" y="690.3" textLength="172.1" lengthAdjust="spacingAndGlyphs">Close (BTC): $1,25</text>
<text x="1421.9" y="730.1" textLength="119.0" lengthAdjust="spacingAndGlyphs">Profit: $3,50</text>
</g>
<g font-size="12" fill="#9598a3">
<text x="1565.9" y="211" textLength="77.4" lengthAdjust="spacingAndGlyphs">0.382 (537.94)</text>
<text x="1565.9" y="255.8" textLength="65.0" lengthAdjust="spacingAndGlyphs">0.5 (529.51)</text>
<text x="1565.9" y="300.7" textLength="77.6" lengthAdjust="spacingAndGlyphs">0.618 (521.08)</text>
<text x="1565.9" y="364.7" textLength="77.6" lengthAdjust="spacingAndGlyphs">0.786 (509.08)</text>
</g>
<circle cx="950.5" cy="940.5" r="11.2" fill="#fff"/>
<circle cx="950.5" cy="940.5" r="9.5" fill="#fff" stroke="#2962ff" stroke-width="1.8"/>
<text x="950.6" y="944.9" font-size="12" fill="#2962ff" text-anchor="middle">D</text>
<circle cx="1558.5" cy="940.4" r="11.4" fill="#fff"/>
<circle cx="1558.5" cy="940.4" r="10" fill="#fff" stroke="#9c27b0" stroke-width="1.2"/>
<polygon points="1561.6,935.1 1554.4,940.7 1557.8,941.0 1555.1,945.9 1562.5,940.2 1559.2,939.9" fill="#9c27b0"/>
<polygon fill="#169a1a" points="10.0,1051.5 10.0,1041.6 15.6,1041.7 31.4,1040.7 46.5,1041.1 62.5,1042.2 77.5,1045.3 93.4,1047.8 93.4,1051.5"/>
<polygon fill="#f7686b" points="93.4,1051.5 93.4,1047.8 109.5,1053.4 124.5,1055.1 140.4,1056.6 155.4,1058.1 171.4,1061.7 186.5,1063.3 202.5,1068.2 218.4,1076.5 233.4,1081.2 249.4,1087.8 264.5,1093.4 280.5,1100.2 296.4,1101.5 311.4,1099.8 327.4,1098.1 342.5,1097.6 358.3,1094.6 373.4,1090.9 389.4,1092.2 405.4,1093.7 420.5,1092.6 436.3,1087.7 451.4,1080.7 467.4,1075.3 483.3,1070.9 498.5,1065.9 514.4,1061.8 529.4,1058.8 545.4,1055.1 545.4,1051.5"/>
<polygon fill="#169a1a" points="545.4,1051.5 545.4,1055.1 561.3,1049.5 576.5,1046.1 592.4,1043.2 607.4,1040.9 623.4,1038.9 638.4,1038.7 654.5,1041.4 670.4,1041.7 685.4,1042.4 701.4,1045.3 716.5,1049.5 732.5,1050.3 748.4,1051.2 763.4,1051.4 779.4,1048.1 794.5,1046.6 810.5,1045.8 825.5,1044.4 841.4,1043.1 857.5,1040.4 872.5,1037.8 888.4,1036.0 903.4,1032.9 919.4,1030.2 935.6,1029.4 950.4,1030.9 966.5,1033.8 981.5,1035.1 997.4,1036.2 1013.4,1037.3 1028.4,1039.4 1044.5,1041.1 1059.5,1040.7 1075.4,1038.9 1090.4,1036.8 1106.5,1035.5 1122.5,1034.0 1137.5,1030.9 1153.4,1031.8 1168.4,1030.9 1184.5,1029.9 1200.5,1027.9 1215.4,1032.6 1231.4,1039.0 1246.5,1044.3 1262.4,1047.4 1277.5,1050.2 1277.5,1051.5"/>
<polygon fill="#f7686b" points="1277.5,1051.5 1277.5,1050.2 1293.5,1059.6 1309.4,1067.7 1324.3,1071.6 1340.5,1074.3 1355.4,1077.5 1371.3,1074.8 1387.5,1077.9 1402.4,1085.6 1418.3,1099.9 1433.4,1108.2 1449.4,1115.7 1465.4,1113.9 1480.4,1110.9 1496.4,1108.0 1511.5,1100.8 1527.4,1093.7 1542.5,1082.9 1558.5,1073.6 1558.5,1051.5"/>
<polyline fill="none" stroke="#2a00dc" stroke-width="1.9" stroke-linejoin="round" points="10.0,1021.6 15.6,1023.2 31.4,1011.8 46.5,1012.0 62.5,1016.7 77.5,1031.9 93.4,1029.7 109.5,1055.1 124.5,1037.8 140.4,1037.2 155.4,1035.0 171.4,1054.2 186.5,1042.1 202.5,1064.2 218.4,1079.0 233.4,1081.2 249.4,1087.0 264.5,1089.3 280.5,1098.0 296.4,1080.9 311.4,1061.8 327.4,1062.3 342.5,1067.2 358.3,1052.2 373.4,1047.3 389.4,1068.6 405.4,1072.3 420.5,1057.6 436.3,1042.1 451.4,1030.4 467.4,1029.4 483.3,1029.2 498.5,1022.8 514.4,1021.3 529.4,1021.0 545.4,1015.4 561.3,1002.6 576.5,1007.3 592.4,1005.6 607.4,1004.4 623.4,1001.4 638.4,1009.5 654.5,1027.0 670.4,1017.8 685.4,1017.1 701.4,1033.3 716.5,1046.5 732.5,1032.3 748.4,1030.9 763.4,1029.1 779.4,1012.9 794.5,1012.9 810.5,1016.1 825.5,1011.5 841.4,1008.1 857.5,998.0 872.5,995.8 888.4,995.1 903.4,986.0 919.4,983.8 935.6,993.1 950.4,1007.6 966.5,1016.9 981.5,1010.7 997.4,1008.6 1013.4,1006.1 1028.4,1019.1 1044.5,1015.2 1059.5,1004.4 1075.4,998.0 1090.4,991.1 1106.5,989.7 1122.5,988.4 1137.5,977.6 1153.4,1005.9 1168.4,998.3 1184.5,995.0 1200.5,989.0 1215.4,1025.3 1231.4,1041.4 1246.5,1052.2 1262.4,1036.6 1277.5,1039.1 1293.5,1071.8 1309.4,1077.5 1324.3,1060.7 1340.5,1059.6 1355.4,1066.2 1371.3,1043.8 1387.5,1061.4 1402.4,1080.2 1418.3,1098.5 1433.4,1087.6 1449.4,1091.9 1465.4,1067.1 1480.4,1063.2 1496.4,1062.8 1511.5,1047.0 1527.4,1044.0 1542.5,1029.8 1558.5,1028.0"/>
<g shape-rendering="crispEdges" stroke="#fff" stroke-width="1" stroke-dasharray="5 6">
<line x1="11" y1="1003.5" x2="1819" y2="1003.5"/>
<line x1="11" y1="1100.5" x2="1819" y2="1100.5"/>
</g>
<g font-size="11.4" fill="#131722">
<text x="1828.3" y="104.8" textLength="35.3" lengthAdjust="spacingAndGlyphs">560.00</text>
<text x="1828.3" y="158.4" textLength="35.3" lengthAdjust="spacingAndGlyphs">550.00</text>
<text x="1828.3" y="212.0" textLength="35.3" lengthAdjust="spacingAndGlyphs">540.00</text>
<text x="1828.3" y="265.6" textLength="35.3" lengthAdjust="spacingAndGlyphs">530.00</text>
<text x="1828.3" y="319.3" textLength="35.3" lengthAdjust="spacingAndGlyphs">520.00</text>
<text x="1828.3" y="372.9" textLength="35.3" lengthAdjust="spacingAndGlyphs">510.00</text>
<text x="1828.3" y="426.5" textLength="35.3" lengthAdjust="spacingAndGlyphs">500.00</text>
<text x="1828.3" y="480.2" textLength="35.3" lengthAdjust="spacingAndGlyphs">490.00</text>
<text x="1828.3" y="533.8" textLength="35.3" lengthAdjust="spacingAndGlyphs">480.00</text>
<text x="1828.3" y="587.4" textLength="35.3" lengthAdjust="spacingAndGlyphs">470.00</text>
<text x="1828.3" y="641.1" textLength="35.3" lengthAdjust="spacingAndGlyphs">460.00</text>
<text x="1828.3" y="694.7" textLength="35.3" lengthAdjust="spacingAndGlyphs">450.00</text>
<text x="1828.3" y="748.3" textLength="35.3" lengthAdjust="spacingAndGlyphs">440.00</text>
<text x="1828.3" y="801.9" textLength="35.3" lengthAdjust="spacingAndGlyphs">430.00</text>
<text x="1828.3" y="909.2" textLength="35.3" lengthAdjust="spacingAndGlyphs">410.00</text>
<text x="1828.3" y="982.6" textLength="28.9" lengthAdjust="spacingAndGlyphs">80.00</text>
<text x="1828.3" y="1080.1" textLength="28.9" lengthAdjust="spacingAndGlyphs">40.00</text>
<text x="1828.3" y="1129.0" textLength="28.9" lengthAdjust="spacingAndGlyphs">20.00</text>
<text x="1828.3" y="1177.8" textLength="35.3" lengthAdjust="spacingAndGlyphs">0.0000</text>
</g>
<path d="M1819,123 H1866.5 Q1869,123 1869,125.5 V137.5 Q1869,140 1866.5,140 H1819 Z" fill="#f23645"/>
<path d="M1819,847 H1877.5 Q1880,847 1880,849.5 V861.5 Q1880,864 1877.5,864 H1819 Z" fill="#000"/>
<path d="M1819,874 H1877.5 Q1880,874 1880,876.5 V888.5 Q1880,891 1877.5,891 H1819 Z" fill="#26a69a"/>
<path d="M1819,1020 H1860.5 Q1863,1020 1863,1022.5 V1034.5 Q1863,1037 1860.5,1037 H1819 Z" fill="#2a00dc"/>
<g font-size="12" font-weight="bold" fill="#fff">
<text x="1827.8" y="135.8" textLength="35.4" lengthAdjust="spacingAndGlyphs">554.31</text>
<text x="1827.8" y="859.8" textLength="46.7" lengthAdjust="spacingAndGlyphs">61.775<tspan dx="1.5">M</tspan></text>
<text x="1827.8" y="886.8" textLength="46.7" lengthAdjust="spacingAndGlyphs">44.431<tspan dx="1.5">M</tspan></text>
<text x="1827.8" y="1032.8" textLength="28.8" lengthAdjust="spacingAndGlyphs">59.51</text>
</g>
<rect x="1823.5" y="31.5" width="57" height="25" rx="3.5" fill="#fff"/>
<text x="1832.6" y="48.9" font-size="12" fill="#131722" textLength="20" lengthAdjust="spacingAndGlyphs">USD</text>
<g font-size="11.4" fill="#131722" text-anchor="middle">
<text x="62.5" y="1212" font-weight="bold">Apr</text>
<text x="218.5" y="1212">15</text>
<text x="311.5" y="1212">23</text>
<text x="405.5" y="1212" font-weight="bold">May</text>
<text x="529.5" y="1212">13</text>
<text x="623.5" y="1212">21</text>
<text x="748.5" y="1212" font-weight="bold">Jun</text>
<text x="903.5" y="1212">17</text>
<text x="1044.5" y="1212" font-weight="bold">Jul</text>
<text x="1184.5" y="1212">15</text>
<text x="1277.5" y="1212">23</text>
<text x="1387.5" y="1212" font-weight="bold">Aug</text>
<text x="1496.5" y="1212">12</text>
<text x="1589.5" y="1212">20</text>
<text x="1729.5" y="1212" font-weight="bold">Sep</text>
</g>
<g font-size="11.3" fill="#131722">
<text x="18.2" y="45.5" textLength="186.4" lengthAdjust="spacingAndGlyphs">SPDR S&amp;P 500 ETF TRUST, 1D, Arca</text>
<text x="212.5" y="45.5" textLength="42.9" lengthAdjust="spacingAndGlyphs">O551.42</text>
<text x="263.5" y="45.5" textLength="43.3" lengthAdjust="spacingAndGlyphs">H555.02</text>
<text x="314.5" y="45.5" textLength="41.6" lengthAdjust="spacingAndGlyphs">L551.26</text>
<text x="363.9" y="45.5" textLength="42.2" lengthAdjust="spacingAndGlyphs">C554.31</text>
<text x="414.2" y="45.5" textLength="78.7" lengthAdjust="spacingAndGlyphs">+1.24 (+0.22%)</text>
<text x="18.2" y="62.7" textLength="40.6" lengthAdjust="spacingAndGlyphs">Vol (21)</text>
<text x="66.5" y="62.7" fill="#26a69a" textLength="46.4" lengthAdjust="spacingAndGlyphs">44.431<tspan dx="1.5">M</tspan></text>
<text x="120.2" y="62.7" textLength="45.9" lengthAdjust="spacingAndGlyphs">61.775<tspan dx="1.5">M</tspan></text>
<text x="18.4" y="972.4" textLength="205.7" lengthAdjust="spacingAndGlyphs">RSI + MACD (14, 50, 100, 9, EMA, EMA)</text>
<text x="232.6" y="972.4" fill="#2a00dc" textLength="27.8" lengthAdjust="spacingAndGlyphs">59.51</text>
</g>
<text x="10.1" y="18.8" font-size="12.7" fill="#d1d4dc" stroke="#d1d4dc" stroke-width="0.45" textLength="380.8" lengthAdjust="spacingAndGlyphs">dertonistaus published on TradingView.com, Aug 18, 2024 14:06 UTC+2</text>
<g fill="#d1d4dc">
<path d="M9.8,1234 H18 V1243.8 H13.6 V1238.1 H9.8 Z"/>
<circle cx="21.2" cy="1235.9" r="1.9"/>
<path d="M24.4,1234 H29.8 L26,1243.8 H20.9 Z"/>
<text x="32.9" y="1243.8" font-size="13" textLength="70.6" lengthAdjust="spacingAndGlyphs" stroke="#d1d4dc" stroke-width="0.45">TradingView</text>
</g>
</svg>
</body></html>
